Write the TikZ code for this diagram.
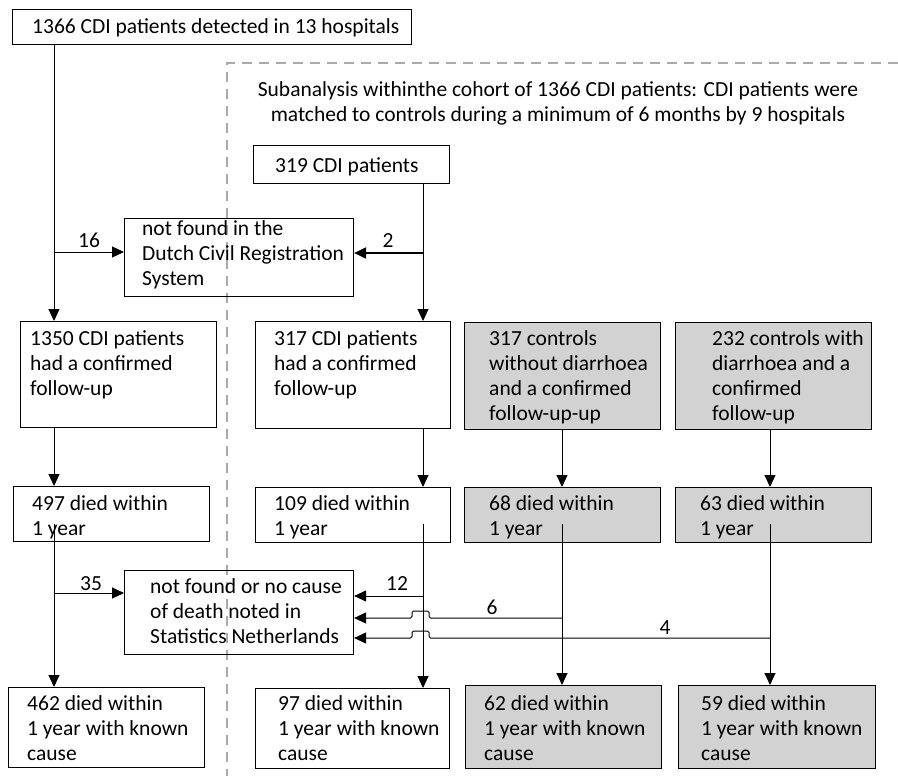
\documentclass[tikz,border=0pt]{standalone}
\usepackage{fontspec}
\setmainfont{Carlito}
\usetikzlibrary{arrows.meta,calc}
\definecolor{boxgray}{RGB}{210,210,210}
\definecolor{dashgray}{RGB}{170,170,170}
\newcommand{\tb}[1]{\parbox[t]{450pt}{\raggedright #1}}
\begin{document}
\begin{tikzpicture}[x=1pt,y=-1pt,
 box/.style={draw, line width=1.1pt, inner sep=0pt, anchor=north west},
 gbox/.style={box, fill=boxgray},
 txt/.style={inner sep=0pt, anchor=base west, font=\fontsize{21.5}{25}\selectfont},
 lbl/.style={inner sep=0pt, anchor=base, font=\fontsize{21.5}{25}\selectfont},
 conn/.style={line width=1pt},
 arr/.style={conn, -{Triangle[length=12pt,width=11pt]}},
]
\useasboundingbox (0,0) rectangle (898,776);
\fill[white] (0,0) rectangle (898,776);
% dashed frame of the subanalysis
\draw[dashgray, line width=1.4pt, dash pattern=on 10pt off 7pt] (898,63) -- (227,63) -- (227,776);

% boxes
\node[box, minimum width=399pt, minimum height=35pt] (b1366) at (12,9) {};
\node[box, minimum width=196pt, minimum height=38pt] (b319) at (253,145) {};
\node[box, minimum width=229pt, minimum height=78pt] (nf1) at (124,218) {};
\node[box, minimum width=196pt, minimum height=106pt] (b1350) at (20,321) {};
\node[box, minimum width=195pt, minimum height=107pt] (b317) at (255,321) {};
\node[gbox, minimum width=196pt, minimum height=107pt] (g317) at (464,322) {};
\node[gbox, minimum width=196pt, minimum height=107pt] (g232) at (675,322) {};
\node[box, minimum width=196pt, minimum height=55pt] (b497) at (13,486) {};
\node[box, minimum width=195pt, minimum height=55pt] (b109) at (255,487) {};
\node[gbox, minimum width=196pt, minimum height=55pt] (g68) at (464,487) {};
\node[gbox, minimum width=196pt, minimum height=55pt] (g63) at (675,487) {};
\node[box, minimum width=229pt, minimum height=84pt] (nf2) at (124,570) {};
\node[box, minimum width=196pt, minimum height=80pt] (b462) at (8,687) {};
\node[box, minimum width=194pt, minimum height=80pt] (b97) at (255,688) {};
\node[gbox, minimum width=196pt, minimum height=83pt] (g62) at (465,685) {};
\node[gbox, minimum width=197pt, minimum height=83pt] (g59) at (678,685) {};

% texts
\node[txt] (t1366) at (32,34) {\tb{1366 CDI patients detected in 13 hospitals}};
\node[lbl] (tsub) at (558,96) {\parbox[t]{700pt}{\centering Subanalysis withinthe cohort of 1366 CDI patients: CDI patients were\\matched to controls during a minimum of 6 months by 9 hospitals}};
\node[txt] (t319) at (275,172) {\tb{319 CDI patients}};
\node[txt] (tnf1) at (142,235) {\tb{not found in the\\Dutch Civil Registration\\System}};
\node[txt] (t1350) at (30,345) {\tb{1350 CDI patients\\had a confirmed\\follow-up}};
\node[txt] (t317) at (274,345) {\tb{317 CDI patients\\had a confirmed\\follow-up}};
\node[txt] (tg317) at (489,345) {\tb{317 controls\\without diarrhoea\\and a confirmed\\follow-up-up}};
\node[txt] (tg232) at (712,345) {\tb{232 controls with\\diarrhoea and a\\confirmed\\follow-up}};
\node[txt] (t497) at (32,510) {\tb{497 died within\\1 year}};
\node[txt] (t109) at (274,510) {\tb{109 died within\\1 year}};
\node[txt] (t68) at (489,510) {\tb{68 died within\\1 year}};
\node[txt] (t63) at (700,510) {\tb{63 died within\\1 year}};
\node[txt] (tnf2) at (150,593) {\tb{not found or no cause\\of death noted in\\Statistics Netherlands}};
\node[txt] (t462) at (27,710) {\tb{462 died within\\1 year with known\\cause}};
\node[txt] (t97) at (278,710) {\tb{97 died within\\1 year with known\\cause}};
\node[txt] (t62) at (484,710) {\tb{62 died within\\1 year with known\\cause}};
\node[txt] (t59) at (701,710) {\tb{59 died within\\1 year with known\\cause}};

% columns of the connectors
\coordinate (cA) at (54,0);
\coordinate (cB) at (423,0);
\coordinate (cC) at (562,0);
\coordinate (cD) at (770,0);

% main vertical connectors
\draw[arr] (b1366.south -| cA) -- (b1350.north -| cA);
\draw[arr] (b319.south -| cB) -- (b317.north -| cB);
\draw[arr] (b1350.south -| cA) -- (b497.north -| cA);
\draw[arr] (b317.south -| cB) -- (b109.north -| cB);
\draw[arr] (g317.south -| cC) -- (g68.north -| cC);
\draw[arr] (g232.south -| cD) -- (g63.north -| cD);
\draw[arr] ($(b497.south -| cA)+(0,-18)$) -- (b462.north -| cA);
\draw[arr] ($(b109.south -| cB)+(0,-19)$) -- (b97.north -| cB);
\draw[arr] ($(g68.south -| cC)+(0,-19)$) -- (g62.north -| cC);
\draw[arr] ($(g63.south -| cD)+(0,-19)$) -- (g59.north -| cD);

% side branches
\coordinate (j16) at (54,252);
\draw[arr] (j16) -- (j16 -| nf1.west);
\coordinate (j2) at (423,253);
\draw[arr, line width=2pt] (j2) -- (j2 -| nf1.east);
\coordinate (j35) at (54,593);
\draw[arr] (j35) -- (j35 -| nf2.west);
\coordinate (j12) at (423,596);
\draw[arr] (j12) -- (j12 -| nf2.east);
\coordinate (j6) at (562,618);
\draw[arr, rounded corners=1.5pt] (j6) -- ($(j6 -| cB)+(6,0)$) -- ($(j6 -| cB)+(6,-7)$) -- ($(j6 -| cB)+(-11,-7)$) -- ($(j6 -| cB)+(-11,0)$) -- (j6 -| nf2.east);
\coordinate (j4) at (770,638);
\draw[arr, rounded corners=1.5pt] (j4) -- ($(j4 -| cB)+(6,0)$) -- ($(j4 -| cB)+(6,-7)$) -- ($(j4 -| cB)+(-11,-7)$) -- ($(j4 -| cB)+(-11,0)$) -- (j4 -| nf2.east);

% branch labels
\node[lbl] (l16) at (89,247) {16};
\node[lbl] (l2) at (388,247) {2};
\node[lbl] (l35) at (91,590) {35};
\node[lbl] (l12) at (397,590) {12};
\node[lbl] (l6) at (492,614) {6};
\node[lbl] (l4) at (665,634) {4};
\end{tikzpicture}
\end{document}
